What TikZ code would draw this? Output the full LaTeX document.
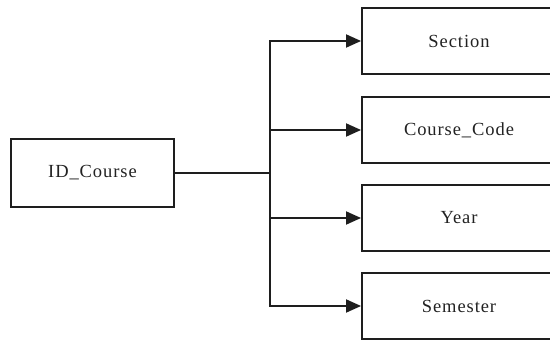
\documentclass[tikz,border=0pt]{standalone}
\usepackage{fontspec}
\setmainfont{Liberation Serif}[LetterSpace=5]
\usetikzlibrary{arrows.meta}
\definecolor{ink}{HTML}{1E1E1E}
\definecolor{txt}{HTML}{222222}
\tikzset{
  box/.style={draw=ink, line width=1.9pt, rectangle, inner sep=0pt, text=txt,
    font=\fontsize{18.5}{21}\selectfont},
  leftbox/.style={box, minimum width=163pt, minimum height=68pt},
  rightbox/.style={box, minimum width=194pt, minimum height=66pt},
  conn/.style={draw=ink, line width=1.9pt},
  arr/.style={conn, -{Triangle[length=15pt,width=13pt]}}
}
\begin{document}
\begin{tikzpicture}[x=1pt,y=-1pt]
\path[use as bounding box] (0,0) rectangle (550,342);
\clip (0,0) rectangle (550,342);
\node[leftbox] (id) at (92.5,173) {ID\_Course};
\node[rightbox] (sec) at (459,41) {Section};
\node[rightbox] (code) at (459,130) {Course\_Code};
\node[rightbox] (year) at (459,218) {Year};
\node[rightbox] (sem) at (459,306) {Semester};
\coordinate (j) at (270,173);
\draw[conn] (id.east) -- (j);
\draw[arr] (j) |- (sec.west);
\draw[arr] (j) |- (code.west);
\draw[arr] (j) |- (year.west);
\draw[arr] (j) |- (sem.west);
\end{tikzpicture}
\end{document}
